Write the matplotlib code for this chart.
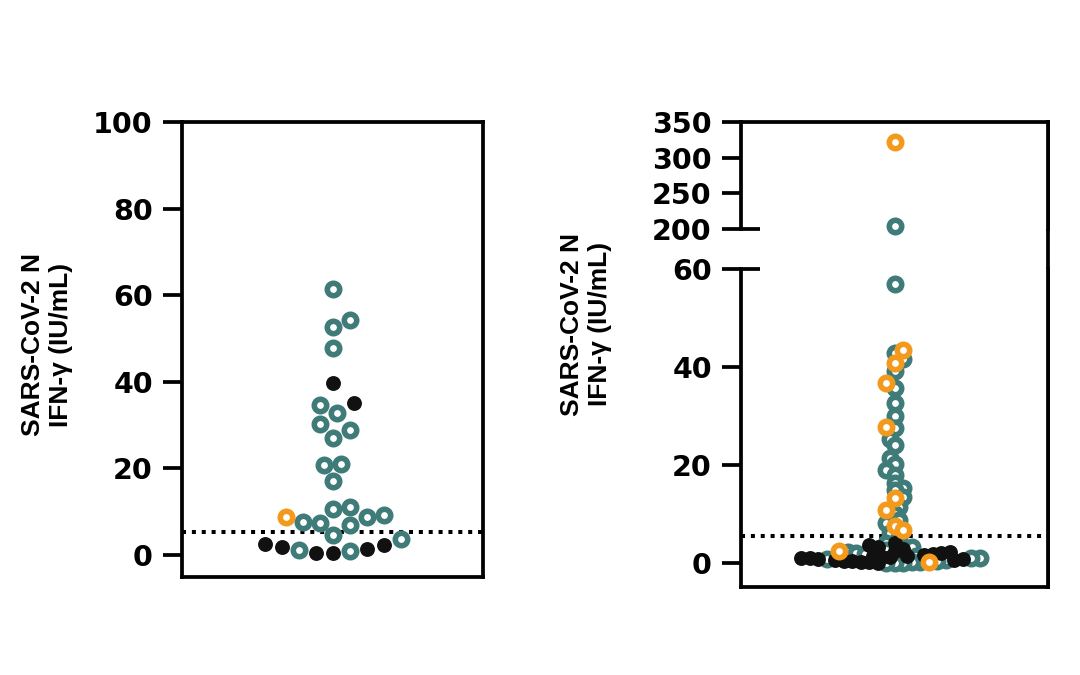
import numpy as np
import matplotlib
matplotlib.use("Agg")
import matplotlib.pyplot as plt
from matplotlib.ticker import FixedLocator, FixedFormatter

# -----------------------------
# Data
# -----------------------------
# left panel
teal_left = [61.4, 54.3, 52.6, 47.8, 34.6, 32.8, 30.3, 28.9, 27.0, 20.8, 21.0,
             17.1, 10.6, 7.4, 9.2, 6.9, 11.1, 7.6, 8.8, 4.6, 3.7, 0.9, 1.2]
black_left = [39.7, 35.1, 1.4, 1.8, 2.3, 0.5, 2.5, 0.5]
orange_left = [8.8]
cutoff_left = 5.3

# right panel (broken axis)
teal_right = [204, 57, 42.8, 41.6, 39.2, 35.7, 32.7, 30.0, 27.6, 25.4, 24.0,
              21.5, 20.3, 18.9, 17.9, 16.4, 15.4, 14.8, 13.4, 11.4, 10.1, 8.7,
              8.1, 6.1, 5.3, 4.1, 3.3, 2.6, 2.2, 2.0, 1.8, 1.5, 1.3, 1.1, 1.0,
              0.8, 0.6, 0.5, 0.3, 0.2, 0.1, 0.0, 0.0]
black_right = [4.0, 3.6, 3.2, 2.8, 2.5, 2.2, 2.0, 1.8, 1.6, 1.5, 1.4, 1.3,
               1.2, 1.1, 1.0, 0.9, 0.8, 0.7, 0.6, 0.5, 0.4, 0.3, 0.2, 0.1]
orange_right = [322, 43.4, 40.8, 36.7, 27.8, 13.2, 10.8, 7.5, 6.7, 2.4, 0.3]
cutoff_right = 5.5

left_ticks = [0, 20, 40, 60, 80, 100]
low_ticks = [0, 20, 40]
low_break = 60
high_ticks = [250, 300, 350]
high_break = 200

ylabel = "SARS-CoV-2 N\nIFN-\u03b3 (IU/mL)"

TEAL = "#3f7b79"
ORANGE = "#f39a1c"
BLACK = "#111111"
LABEL_FONT = ["Liberation Sans", "DejaVu Sans"]
TICK_FONT = ["DejaVu Sans"]
LW = 2.7

plt.rcParams['font.family'] = LABEL_FONT
plt.rcParams['font.weight'] = 'bold'

fig = plt.figure(figsize=(10.8, 6.75), dpi=100)


def style_axis(ax, size=20.5):
    for s in ax.spines.values():
        s.set_linewidth(LW)
    ax.tick_params(axis='y', which='both', direction='out', length=14, width=LW,
                   pad=7, labelsize=size)
    ax.tick_params(axis='x', which='both', bottom=False, labelbottom=False)
    for lab in ax.get_yticklabels(which='both'):
        lab.set_fontweight('bold')
        lab.set_family(TICK_FONT)


def swarm_x(ax, values, diam_px, min_frac, step_frac=0.25):
    # simple beeswarm: place points low to high, nearest free spot to centre
    values = np.asarray(values, dtype=float)
    if len(values) == 0:
        return values
    pts = ax.transData.transform(np.column_stack([np.zeros(len(values)), values]))
    x0 = pts[0, 0]
    min_d = diam_px * min_frac
    step = diam_px * step_frac
    placed = []
    xs = np.empty(len(values))
    for n, i in enumerate(np.argsort(values, kind='stable')):
        y = pts[i, 1]
        k = 0
        found = None
        while found is None:
            offs = [0.0] if k == 0 else ([-k * step, k * step] if n % 2 else [k * step, -k * step])
            for off in offs:
                x = x0 + off
                if all(np.hypot(x - px, y - py) >= min_d for px, py in placed):
                    found = x
                    break
            k += 1
        placed.append((found, y))
        xs[i] = found
    inv = ax.transData.inverted()
    return inv.transform(np.column_stack([xs, pts[:, 1]]))[:, 0]


def draw_points(ax, vals, groups, xs):
    vals = np.asarray(vals)
    groups = np.asarray(groups)
    m = groups == 'teal'
    ax.scatter(xs[m], vals[m], s=80, facecolors='white', edgecolors=TEAL,
               linewidths=4.0, zorder=3, clip_on=False)
    m = groups == 'black'
    ax.scatter(xs[m], vals[m], s=115, color=BLACK, linewidths=0, zorder=4, clip_on=False)
    m = groups == 'orange'
    ax.scatter(xs[m], vals[m], s=80, facecolors='white', edgecolors=ORANGE,
               linewidths=4.0, zorder=5, clip_on=False)


def cutoff_line(ax, y):
    ax.axhline(y, color='black', lw=2.9, linestyle=(0, (1, 1.45)),
               dash_capstyle='butt', zorder=2)


# -----------------------------
# Left panel
# -----------------------------
axL = fig.add_axes([182 / 1080, 1 - 577 / 675, 301 / 1080, 455 / 675])
axL.set_xlim(-1, 1)
axL.set_ylim(-5.1, 100)
axL.set_yticks(left_ticks)
style_axis(axL)
cutoff_line(axL, cutoff_left)

vals_L = teal_left + black_left + orange_left
grp_L = ['teal'] * len(teal_left) + ['black'] * len(black_left) + ['orange'] * len(orange_left)
xs_L = swarm_x(axL, vals_L, 17, 1.0)
draw_points(axL, vals_L, grp_L, xs_L)

fig.text(47 / 1080, 1 - 345 / 675, ylabel, rotation=90, ha='center', va='center',
         fontsize=19, fontweight='bold', linespacing=1.25)

# -----------------------------
# Right panel (broken y axis)
# -----------------------------
r_left, r_w = 741 / 1080, 307 / 1080
frame = fig.add_axes([r_left, 1 - 587 / 675, r_w, (587 - 122) / 675])
frame.set_axis_off()
frame.plot([1, 1], [0, 1], color='black', lw=LW, transform=frame.transAxes,
           solid_capstyle='projecting', clip_on=False)

axLow = fig.add_axes([r_left, 1 - 587 / 675, r_w, (587 - 269) / 675])
axHigh = fig.add_axes([r_left, 1 - 229 / 675, r_w, (229 - 122) / 675])

axLow.set_xlim(-1, 1)
axLow.set_ylim(-4.9, low_break)
axLow.spines['top'].set_visible(False)
axLow.yaxis.set_major_locator(FixedLocator(low_ticks))
axLow.yaxis.set_minor_locator(FixedLocator([low_break]))
axLow.yaxis.set_minor_formatter(FixedFormatter([str(low_break)]))
style_axis(axLow)
axLow.tick_params(axis='y', which='minor', direction='inout', length=28)

axHigh.set_xlim(-1, 1)
axHigh.set_ylim(high_break, 350)
axHigh.spines['bottom'].set_visible(False)
axHigh.yaxis.set_major_locator(FixedLocator(high_ticks))
axHigh.yaxis.set_minor_locator(FixedLocator([high_break]))
axHigh.yaxis.set_minor_formatter(FixedFormatter([str(high_break)]))
style_axis(axHigh)
axHigh.tick_params(axis='y', which='minor', direction='inout', length=28)

cutoff_line(axLow, cutoff_right)

vals_R = np.array(teal_right + black_right + orange_right, dtype=float)
grp_R = np.array(['teal'] * len(teal_right) + ['black'] * len(black_right)
                 + ['orange'] * len(orange_right))
low = vals_R <= low_break
xs_low = swarm_x(axLow, vals_R[low], 17, 0.42)
xs_high = swarm_x(axHigh, vals_R[~low], 17, 1.0)
draw_points(axLow, vals_R[low], grp_R[low], xs_low)
draw_points(axHigh, vals_R[~low], grp_R[~low], xs_high)

fig.text(586 / 1080, 1 - 324 / 675, ylabel, rotation=90, ha='center', va='center',
         fontsize=19, fontweight='bold', linespacing=1.25)

fig.savefig("out.png", dpi=100, facecolor='white')
